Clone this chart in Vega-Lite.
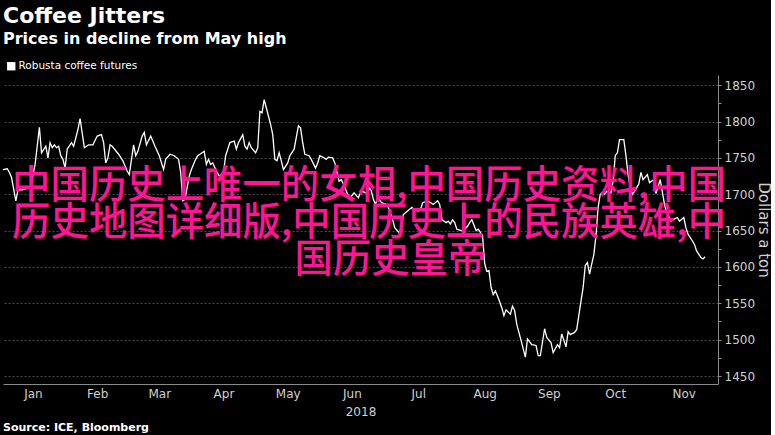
{
  "$schema": "https://vega.github.io/schema/vega-lite/v6.json",
  "background": "#000000",
  "padding": {"left": 0, "top": 5, "right": 0, "bottom": 0},
  "config": {"view": {"stroke": null}, "font": "DejaVu Sans"},
  "title": {
    "text": "Coffee Jitters",
    "subtitle": "Prices in decline from May high",
    "anchor": "start",
    "frame": "group",
    "font": "DejaVu Sans",
    "fontSize": 22,
    "fontWeight": "bold",
    "color": "#ffffff",
    "subtitleFont": "DejaVu Sans",
    "subtitleFontSize": 16,
    "subtitleFontWeight": "bold",
    "subtitleColor": "#ffffff",
    "subtitlePadding": 3,
    "offset": 10
  },
  "spacing": 4,
  "vconcat": [
    {
      "width": 715,
      "height": 309,
      "resolve": {"axis": {"y": "independent"}},
      "layer": [
        {
          "data": {
            "values": [
              {"date": "2018-01-02", "price": 1734}, {"date": "2018-01-04", "price": 1735}, {"date": "2018-01-05", "price": 1730},
              {"date": "2018-01-06", "price": 1723}, {"date": "2018-01-08", "price": 1691}, {"date": "2018-01-09", "price": 1706},
              {"date": "2018-01-11", "price": 1706}, {"date": "2018-01-14", "price": 1709}, {"date": "2018-01-15", "price": 1712},
              {"date": "2018-01-17", "price": 1741}, {"date": "2018-01-19", "price": 1792}, {"date": "2018-01-20", "price": 1757},
              {"date": "2018-01-22", "price": 1766}, {"date": "2018-01-23", "price": 1750}, {"date": "2018-01-24", "price": 1771},
              {"date": "2018-01-25", "price": 1764}, {"date": "2018-01-26", "price": 1768}, {"date": "2018-01-27", "price": 1764},
              {"date": "2018-01-28", "price": 1766}, {"date": "2018-01-29", "price": 1753}, {"date": "2018-01-30", "price": 1748},
              {"date": "2018-01-31", "price": 1736}, {"date": "2018-02-01", "price": 1762}, {"date": "2018-02-03", "price": 1771},
              {"date": "2018-02-04", "price": 1766}, {"date": "2018-02-06", "price": 1789}, {"date": "2018-02-07", "price": 1804},
              {"date": "2018-02-08", "price": 1784}, {"date": "2018-02-09", "price": 1764}, {"date": "2018-02-11", "price": 1768},
              {"date": "2018-02-13", "price": 1768}, {"date": "2018-02-15", "price": 1780}, {"date": "2018-02-17", "price": 1782},
              {"date": "2018-02-18", "price": 1771}, {"date": "2018-02-19", "price": 1743}, {"date": "2018-02-20", "price": 1750},
              {"date": "2018-02-21", "price": 1768}, {"date": "2018-02-22", "price": 1766}, {"date": "2018-02-25", "price": 1755},
              {"date": "2018-02-27", "price": 1746}, {"date": "2018-03-01", "price": 1732}, {"date": "2018-03-02", "price": 1727},
              {"date": "2018-03-04", "price": 1768}, {"date": "2018-03-05", "price": 1753}, {"date": "2018-03-06", "price": 1759},
              {"date": "2018-03-08", "price": 1780}, {"date": "2018-03-09", "price": 1785}, {"date": "2018-03-10", "price": 1768},
              {"date": "2018-03-12", "price": 1780}, {"date": "2018-03-14", "price": 1766}, {"date": "2018-03-16", "price": 1753},
              {"date": "2018-03-18", "price": 1734}, {"date": "2018-03-19", "price": 1748}, {"date": "2018-03-21", "price": 1755},
              {"date": "2018-03-23", "price": 1753}, {"date": "2018-03-25", "price": 1748}, {"date": "2018-03-26", "price": 1730},
              {"date": "2018-03-27", "price": 1691}, {"date": "2018-03-28", "price": 1693}, {"date": "2018-03-30", "price": 1725},
              {"date": "2018-03-31", "price": 1734}, {"date": "2018-04-02", "price": 1748}, {"date": "2018-04-03", "price": 1753},
              {"date": "2018-04-05", "price": 1757}, {"date": "2018-04-06", "price": 1759}, {"date": "2018-04-07", "price": 1741},
              {"date": "2018-04-08", "price": 1748}, {"date": "2018-04-09", "price": 1741}, {"date": "2018-04-10", "price": 1743},
              {"date": "2018-04-12", "price": 1730}, {"date": "2018-04-13", "price": 1725}, {"date": "2018-04-15", "price": 1730},
              {"date": "2018-04-16", "price": 1753}, {"date": "2018-04-18", "price": 1771}, {"date": "2018-04-20", "price": 1773},
              {"date": "2018-04-21", "price": 1762}, {"date": "2018-04-22", "price": 1771}, {"date": "2018-04-24", "price": 1782},
              {"date": "2018-04-25", "price": 1766}, {"date": "2018-04-26", "price": 1762}, {"date": "2018-04-27", "price": 1771},
              {"date": "2018-04-28", "price": 1764}, {"date": "2018-04-30", "price": 1757}, {"date": "2018-05-01", "price": 1764},
              {"date": "2018-05-02", "price": 1814}, {"date": "2018-05-03", "price": 1812}, {"date": "2018-05-04", "price": 1830},
              {"date": "2018-05-05", "price": 1819}, {"date": "2018-05-07", "price": 1796}, {"date": "2018-05-08", "price": 1782},
              {"date": "2018-05-09", "price": 1748}, {"date": "2018-05-10", "price": 1746}, {"date": "2018-05-11", "price": 1757},
              {"date": "2018-05-12", "price": 1746}, {"date": "2018-05-13", "price": 1734}, {"date": "2018-05-15", "price": 1743},
              {"date": "2018-05-16", "price": 1753}, {"date": "2018-05-18", "price": 1762}, {"date": "2018-05-20", "price": 1794},
              {"date": "2018-05-21", "price": 1791}, {"date": "2018-05-22", "price": 1771}, {"date": "2018-05-23", "price": 1755},
              {"date": "2018-05-25", "price": 1753}, {"date": "2018-05-26", "price": 1748}, {"date": "2018-05-28", "price": 1736},
              {"date": "2018-05-29", "price": 1743}, {"date": "2018-05-30", "price": 1753}, {"date": "2018-06-01", "price": 1750},
              {"date": "2018-06-02", "price": 1748}, {"date": "2018-06-03", "price": 1751}, {"date": "2018-06-05", "price": 1750},
              {"date": "2018-06-06", "price": 1743}, {"date": "2018-06-07", "price": 1730}, {"date": "2018-06-08", "price": 1718},
              {"date": "2018-06-09", "price": 1720}, {"date": "2018-06-10", "price": 1714}, {"date": "2018-06-12", "price": 1700},
              {"date": "2018-06-13", "price": 1695}, {"date": "2018-06-15", "price": 1702}, {"date": "2018-06-17", "price": 1695},
              {"date": "2018-06-18", "price": 1702}, {"date": "2018-06-19", "price": 1704}, {"date": "2018-06-21", "price": 1701},
              {"date": "2018-06-22", "price": 1709}, {"date": "2018-06-23", "price": 1705}, {"date": "2018-06-24", "price": 1693},
              {"date": "2018-06-25", "price": 1686}, {"date": "2018-06-26", "price": 1695}, {"date": "2018-06-28", "price": 1688},
              {"date": "2018-06-30", "price": 1686}, {"date": "2018-07-01", "price": 1682}, {"date": "2018-07-03", "price": 1665},
              {"date": "2018-07-04", "price": 1654}, {"date": "2018-07-06", "price": 1647}, {"date": "2018-07-07", "price": 1654},
              {"date": "2018-07-08", "price": 1672}, {"date": "2018-07-10", "price": 1677}, {"date": "2018-07-12", "price": 1682},
              {"date": "2018-07-13", "price": 1679}, {"date": "2018-07-15", "price": 1677}, {"date": "2018-07-16", "price": 1679},
              {"date": "2018-07-17", "price": 1688}, {"date": "2018-07-19", "price": 1691}, {"date": "2018-07-21", "price": 1688},
              {"date": "2018-07-22", "price": 1686}, {"date": "2018-07-24", "price": 1691}, {"date": "2018-07-25", "price": 1686},
              {"date": "2018-07-26", "price": 1665}, {"date": "2018-07-28", "price": 1661}, {"date": "2018-07-29", "price": 1663},
              {"date": "2018-07-30", "price": 1659}, {"date": "2018-07-31", "price": 1665}, {"date": "2018-08-01", "price": 1661},
              {"date": "2018-08-02", "price": 1652}, {"date": "2018-08-04", "price": 1650}, {"date": "2018-08-05", "price": 1650},
              {"date": "2018-08-07", "price": 1656}, {"date": "2018-08-08", "price": 1661}, {"date": "2018-08-09", "price": 1665},
              {"date": "2018-08-11", "price": 1650}, {"date": "2018-08-12", "price": 1652}, {"date": "2018-08-14", "price": 1643},
              {"date": "2018-08-15", "price": 1605}, {"date": "2018-08-16", "price": 1594}, {"date": "2018-08-17", "price": 1595},
              {"date": "2018-08-18", "price": 1572}, {"date": "2018-08-19", "price": 1562}, {"date": "2018-08-20", "price": 1567},
              {"date": "2018-08-21", "price": 1560}, {"date": "2018-08-23", "price": 1544}, {"date": "2018-08-24", "price": 1533},
              {"date": "2018-08-25", "price": 1541}, {"date": "2018-08-27", "price": 1535}, {"date": "2018-08-28", "price": 1546},
              {"date": "2018-08-29", "price": 1540}, {"date": "2018-08-30", "price": 1521}, {"date": "2018-09-01", "price": 1499},
              {"date": "2018-09-03", "price": 1476}, {"date": "2018-09-04", "price": 1501}, {"date": "2018-09-06", "price": 1493},
              {"date": "2018-09-08", "price": 1492}, {"date": "2018-09-09", "price": 1478}, {"date": "2018-09-10", "price": 1478},
              {"date": "2018-09-12", "price": 1515}, {"date": "2018-09-13", "price": 1503}, {"date": "2018-09-15", "price": 1496},
              {"date": "2018-09-16", "price": 1482}, {"date": "2018-09-18", "price": 1493}, {"date": "2018-09-19", "price": 1489},
              {"date": "2018-09-20", "price": 1508}, {"date": "2018-09-22", "price": 1490}, {"date": "2018-09-23", "price": 1511},
              {"date": "2018-09-24", "price": 1507}, {"date": "2018-09-26", "price": 1510}, {"date": "2018-09-27", "price": 1514},
              {"date": "2018-09-29", "price": 1553}, {"date": "2018-09-30", "price": 1572}, {"date": "2018-10-01", "price": 1602},
              {"date": "2018-10-02", "price": 1606}, {"date": "2018-10-03", "price": 1590}, {"date": "2018-10-04", "price": 1604},
              {"date": "2018-10-05", "price": 1617}, {"date": "2018-10-06", "price": 1643}, {"date": "2018-10-07", "price": 1682},
              {"date": "2018-10-08", "price": 1700}, {"date": "2018-10-09", "price": 1703}, {"date": "2018-10-10", "price": 1700},
              {"date": "2018-10-11", "price": 1704}, {"date": "2018-10-13", "price": 1702}, {"date": "2018-10-14", "price": 1718},
              {"date": "2018-10-15", "price": 1753}, {"date": "2018-10-16", "price": 1757}, {"date": "2018-10-17", "price": 1775},
              {"date": "2018-10-19", "price": 1775}, {"date": "2018-10-20", "price": 1753}, {"date": "2018-10-21", "price": 1727},
              {"date": "2018-10-22", "price": 1709}, {"date": "2018-10-23", "price": 1700}, {"date": "2018-10-24", "price": 1704},
              {"date": "2018-10-26", "price": 1714}, {"date": "2018-10-27", "price": 1730}, {"date": "2018-10-28", "price": 1720},
              {"date": "2018-10-30", "price": 1727}, {"date": "2018-10-31", "price": 1716}, {"date": "2018-11-02", "price": 1720},
              {"date": "2018-11-03", "price": 1701}, {"date": "2018-11-05", "price": 1720}, {"date": "2018-11-07", "price": 1686},
              {"date": "2018-11-08", "price": 1675}, {"date": "2018-11-10", "price": 1663}, {"date": "2018-11-11", "price": 1665},
              {"date": "2018-11-13", "price": 1668}, {"date": "2018-11-14", "price": 1663}, {"date": "2018-11-16", "price": 1668},
              {"date": "2018-11-17", "price": 1654}, {"date": "2018-11-18", "price": 1645}, {"date": "2018-11-20", "price": 1636},
              {"date": "2018-11-21", "price": 1631}, {"date": "2018-11-22", "price": 1622}, {"date": "2018-11-24", "price": 1613},
              {"date": "2018-11-25", "price": 1611}, {"date": "2018-11-26", "price": 1614}
            ]
          },
          "mark": {"type": "line", "strokeWidth": 1.3},
          "encoding": {
            "x": {
              "field": "date",
              "type": "temporal",
              "scale": {"domain": [{"year": 2018, "month": 1, "date": 2}, {"year": 2018, "month": 12, "date": 2}]},
              "axis": {
                "values": [
                  {"year": 2018, "month": 1, "date": 16}, {"year": 2018, "month": 2, "date": 1},
                  {"year": 2018, "month": 2, "date": 15}, {"year": 2018, "month": 3, "date": 1},
                  {"year": 2018, "month": 3, "date": 16}, {"year": 2018, "month": 4, "date": 1},
                  {"year": 2018, "month": 4, "date": 15}, {"year": 2018, "month": 5, "date": 1},
                  {"year": 2018, "month": 5, "date": 15}, {"year": 2018, "month": 6, "date": 1},
                  {"year": 2018, "month": 6, "date": 14}, {"year": 2018, "month": 7, "date": 1},
                  {"year": 2018, "month": 7, "date": 15}, {"year": 2018, "month": 8, "date": 1},
                  {"year": 2018, "month": 8, "date": 15}, {"year": 2018, "month": 9, "date": 1},
                  {"year": 2018, "month": 9, "date": 14}, {"year": 2018, "month": 10, "date": 1},
                  {"year": 2018, "month": 10, "date": 15}, {"year": 2018, "month": 11, "date": 1},
                  {"year": 2018, "month": 11, "date": 16}
                ],
                "labelExpr": "date(datum.value) === 1 ? '' : timeFormat(datum.value, '%b')",
                "labelOverlap": false,
                "labelFlush": false,
                "labelColor": "#d0d0d0",
                "labelFont": "DejaVu Sans",
                "labelFontSize": 12,
                "labelPadding": 1,
                "tickSize": 3,
                "tickColor": "#8a8a8a",
                "tickOpacity": {"condition": {"test": "date(datum.value) === 1", "value": 1}, "value": 0},
                "grid": true,
                "gridColor": "#4a4a4a",
                "gridDash": [2, 2],
                "gridOpacity": {"condition": {"test": "date(datum.value) === 1", "value": 1}, "value": 0},
                "domainColor": "#8a8a8a",
                "title": "2018",
                "titleColor": "#d0d0d0",
                "titleFont": "DejaVu Sans",
                "titleFontSize": 12,
                "titleFontWeight": "normal",
                "titlePadding": 7
              }
            },
            "y": {
              "field": "price",
              "type": "quantitative",
              "scale": {"domain": [1439, 1864], "nice": false, "zero": false},
              "axis": {
                "orient": "right",
                "values": [1450, 1500, 1550, 1600, 1650, 1700, 1750, 1800, 1850],
                "format": "d",
                "labelOverlap": false,
                "labelFlush": false,
                "labelColor": "#d0d0d0",
                "labelFont": "DejaVu Sans",
                "labelFontSize": 12,
                "labelPadding": 3,
                "tickSize": 3,
                "tickColor": "#8a8a8a",
                "grid": true,
                "gridColor": "#4a4a4a",
                "gridDash": [2, 2],
                "domainColor": "#8a8a8a",
                "title": "Dollars a ton",
                "titleColor": "#d0d0d0",
                "titleFont": "DejaVu Sans",
                "titleFontSize": 15,
                "titleFontWeight": "normal",
                "titlePadding": 1
              }
            },
            "color": {
              "datum": "Robusta coffee futures",
              "type": "nominal",
              "scale": {"range": ["#ffffff"]},
              "legend": {
                "title": null,
                "orient": "top",
                "symbolType": "square",
                "symbolSize": 70,
                "symbolFillColor": "#ffffff",
                "symbolStrokeColor": "#ffffff",
                "symbolStrokeWidth": 0,
                "labelColor": "#ffffff",
                "labelFont": "DejaVu Sans",
                "labelFontSize": 10.5,
                "labelOffset": 2,
                "padding": 3,
                "offset": 0,
                "encode": {"symbols": {"update": {"fill": {"value": "#ffffff"}, "shape": {"value": "square"}}}}
              }
            }
          }
        },
        {
          "data": {
            "values": [
              {"t": ["中国历史上唯一的女相,中国历史资料,中国", "历史地图详细版,中国历史上的民族英雄,中"]}
            ]
          },
          "mark": {
            "type": "text",
            "font": "Noto Sans CJK SC",
            "fontSize": 38.4,
            "lineHeight": 37,
            "fontWeight": 500,
            "color": "#ff1493",
            "align": "center",
            "baseline": "middle"
          },
          "encoding": {
            "text": {"field": "t", "type": "nominal"},
            "x": {"datum": {"year": 2018, "month": 6, "date": 22}, "type": "temporal"},
            "y": {
              "datum": 1711,
              "type": "quantitative",
              "axis": {
                "orient": "right",
                "values": [1475, 1525, 1575, 1625, 1675, 1725, 1775, 1825],
                "labels": false,
                "grid": false,
                "domain": false,
                "ticks": true,
                "tickSize": 3,
                "tickColor": "#8a8a8a",
                "title": null
              }
            }
          }
        },
        {
          "data": {
            "values": [
              {"t": "国历史皇帝"}
            ]
          },
          "mark": {
            "type": "text",
            "font": "Noto Sans CJK SC",
            "fontSize": 38.4,
            "fontWeight": 500,
            "color": "#ff1493",
            "align": "center",
            "baseline": "middle"
          },
          "encoding": {
            "text": {"field": "t", "type": "nominal"},
            "x": {"datum": {"year": 2018, "month": 7, "date": 2}, "type": "temporal"},
            "y": {"datum": 1609, "type": "quantitative", "axis": null}
          }
        }
      ]
    },
    {
      "width": 715,
      "height": 1,
      "title": {
        "text": "Source: ICE, Bloomberg",
        "anchor": "start",
        "frame": "group",
        "font": "DejaVu Sans",
        "fontSize": 11,
        "fontWeight": "bold",
        "color": "#ffffff",
        "offset": 0
      },
      "data": {"values": [{"s": 1}]},
      "mark": {"type": "point", "opacity": 0},
      "encoding": {}
    }
  ]
}
